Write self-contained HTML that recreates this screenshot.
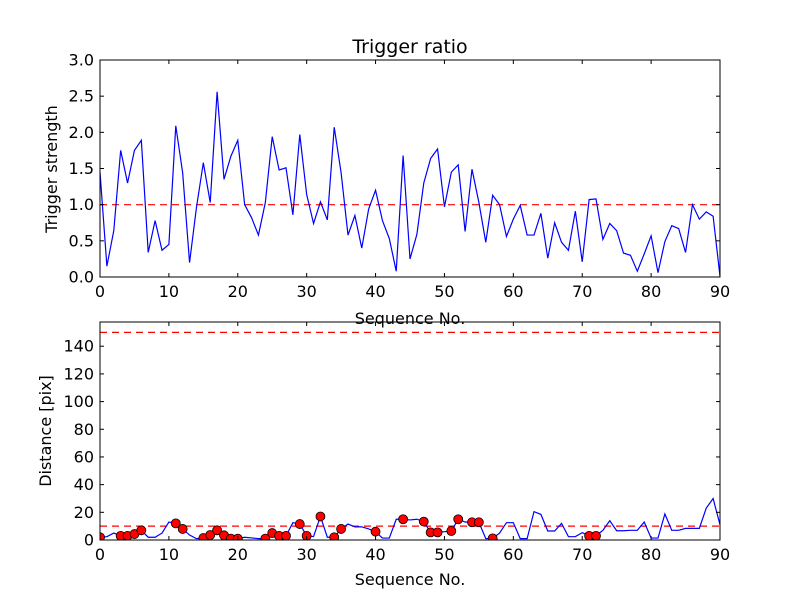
<!DOCTYPE html>
<html><head><meta charset="utf-8"><style>
body{margin:0;background:#fff;}
svg{display:block;font-family:"DejaVu Sans","Liberation Sans",sans-serif;}
</style></head><body>
<svg id="fig" width="800" height="600" viewBox="0 0 800 600">
<rect width="800" height="600" fill="#fff"/>
</svg>
<script>
const xTicks=[0,10,20,30,40,50,60,70,80,90];
const topYTicks=[0,0.5,1.0,1.5,2.0,2.5,3.0];
const topYLabels=["0.0","0.5","1.0","1.5","2.0","2.5","3.0"];
const botYTicks=[0,20,40,60,80,100,120,140];
const ratio=[1.45,0.15,0.64,1.75,1.30,1.75,1.89,0.34,0.78,0.37,0.45,2.09,1.44,0.2,0.96,1.58,1.03,2.56,1.35,1.67,1.89,1.0,0.82,0.58,1.03,1.94,1.48,1.51,0.86,1.97,1.14,0.74,1.04,0.79,2.07,1.44,0.58,0.85,0.40,0.94,1.20,0.78,0.53,0.08,1.68,0.25,0.59,1.30,1.64,1.77,0.97,1.45,1.55,0.63,1.49,1.03,0.48,1.13,1.0,0.56,0.80,0.99,0.58,0.58,0.88,0.26,0.75,0.48,0.37,0.91,0.21,1.07,1.08,0.52,0.74,0.64,0.33,0.30,0.08,0.32,0.57,0.06,0.49,0.71,0.67,0.34,1.0,0.80,0.90,0.84,0.01];
const distance=[2,2.4,5,3,3,4.3,7,2,2,5,13,12,8,3.6,1,1.4,3.6,7,3.4,1,1,2,1.5,1,1,5,3,3,12.5,11.5,3,2.5,17,2,2,8,11.5,9.5,9.5,8,6,1.4,1.4,15,15,14.5,15,13.3,5.5,5.5,6,6.5,15,13,12.8,12.8,1,1.2,5,12.5,12.5,1,1,20.5,18.5,6.5,6.5,12,2.4,2.4,5.3,3,3,7,14,6.7,6.7,7,7,13,1.4,1.4,18.8,7,7,8.4,8.4,8.4,23,30,11];
const markerIdx=[0,3,4,5,6,11,12,15,16,17,18,19,20,24,25,26,27,29,30,32,34,35,40,44,47,48,49,51,52,54,55,57,71,72];
const topThreshold=1.0, botThreshold=10, botLimit=150;

const NS="http://www.w3.org/2000/svg";
const svg=document.getElementById('fig');
function mk(tag,attrs,parent){const e=document.createElementNS(NS,tag);for(const k in attrs)e.setAttribute(k,attrs[k]);(parent||svg).appendChild(e);return e;}
const L=100,R=720;
const sx=v=>L+(v-0)/(90-0)*(R-L);
const tT=60,tB=277,bT=322,bB=540;
const syT=v=>tB-v/3.0*(tB-tT);
const syB=v=>bB-v/157.5*(bB-bT);

function axes(name,top,bot,yt,ylab,sy){
  const g=mk('g',{});
  
  
  xTicks.forEach(t=>{const x=sx(t);
    mk('line',{x1:x,x2:x,y1:bot,y2:bot-4,stroke:'#000'},g);
    mk('line',{x1:x,x2:x,y1:top,y2:top+4,stroke:'#000'},g);
    const tx=mk('text',{x:x,y:bot+20,'font-size':16,'text-anchor':'middle'},g);tx.textContent=t;
    
    
  });
  yt.forEach((t,i)=>{const y=sy(t);
    mk('line',{x1:L,x2:L+4,y1:y,y2:y,stroke:'#000'},g);
    mk('line',{x1:R,x2:R-4,y1:y,y2:y,stroke:'#000'},g);
    const tx=mk('text',{x:L-6,y:y+5.5,'font-size':16,'text-anchor':'end'},g);tx.textContent=ylab[i];
    
    
  });
  return g;
}
function frame(top,bot,name){const r=mk('rect',{x:L,y:top,width:R-L,height:bot-top,fill:'none',stroke:'#000','stroke-width':1});
  
  }

// top chart
const clipT=mk('clipPath',{id:'ct'});mk('rect',{x:L,y:tT,width:R-L,height:tB-tT},clipT);
const h1=mk('line',{x1:L,x2:R,y1:syT(topThreshold),y2:syT(topThreshold),stroke:'#f00','stroke-dasharray':'7,5','stroke-width':1.2});


const p1=mk('polyline',{points:ratio.map((v,i)=>sx(i)+','+syT(v)).join(' '),fill:'none',stroke:'#00f','stroke-width':1.2,'clip-path':'url(#ct)'});


axes('top-axes',tT,tB,topYTicks,topYLabels,syT);
frame(tT,tB,'top-plot-frame');
let t=mk('text',{x:410,y:53,'font-size':19,'text-anchor':'middle'});t.textContent='Trigger ratio';


t=mk('text',{x:410,y:324,'font-size':16,'text-anchor':'middle'});t.textContent='Sequence No.';


t=mk('text',{x:57,y:169,'font-size':16,'text-anchor':'middle',transform:'rotate(-90 57 169)'});t.textContent='Trigger strength';



// bottom chart
const clipB=mk('clipPath',{id:'cb'});mk('rect',{x:L,y:bT,width:R-L,height:bB-bT},clipB);
const h2=mk('line',{x1:L,x2:R,y1:syB(botThreshold),y2:syB(botThreshold),stroke:'#f00','stroke-dasharray':'7,5','stroke-width':1.2});


const h3=mk('line',{x1:L,x2:R,y1:syB(botLimit),y2:syB(botLimit),stroke:'#f00','stroke-dasharray':'7,5','stroke-width':1.2});


const p2=mk('polyline',{points:distance.map((v,i)=>sx(i)+','+syB(v)).join(' '),fill:'none',stroke:'#00f','stroke-width':1.2,'clip-path':'url(#cb)'});


const mg=mk('g',{'clip-path':'url(#cb)'});
markerIdx.forEach(i=>{const c=mk('circle',{cx:sx(i),cy:syB(distance[i]),r:4.5,fill:'#f00',stroke:'#000','stroke-width':0.8},mg);
  
  });
axes('bottom-axes',bT,bB,botYTicks,botYTicks.map(String),syB);
frame(bT,bB,'bottom-plot-frame');
t=mk('text',{x:410,y:585,'font-size':16,'text-anchor':'middle'});t.textContent='Sequence No.';


t=mk('text',{x:51,y:431,'font-size':16,'text-anchor':'middle',transform:'rotate(-90 51 431)'});t.textContent='Distance [pix]';


</script>
</body></html>
